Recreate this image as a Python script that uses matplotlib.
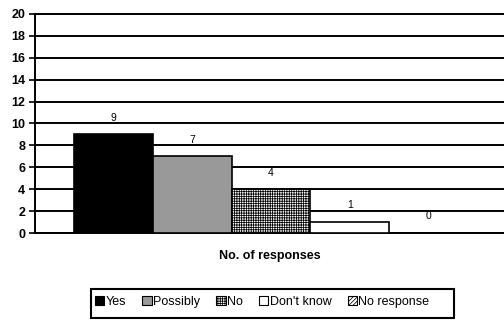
import matplotlib
matplotlib.use("Agg")
import matplotlib.pyplot as plt
from matplotlib.patches import Patch, Rectangle

# data
categories = ["Yes", "Possibly", "No", "Don't know", "No response"]
responses = [9, 7, 4, 1, 0]
y_ticks = list(range(0, 21, 2))

bar_colors = ["black", "#999999", "white", "white", "white"]
bar_hatches = [None, None, "+++++++", None, "////////"]

plt.rcParams['font.family'] = ['Liberation Sans', 'DejaVu Sans']
plt.rcParams['hatch.linewidth'] = 0.55

fig = plt.figure(figsize=(5.04, 3.22), dpi=100)
W, H = 504.0, 322.0
ax = fig.add_axes([35 / W, 1 - 233 / H, (504 - 35) / W, (233 - 14) / H])

x = list(range(len(categories)))
bars = ax.bar(x, responses, width=1.0, color=bar_colors, edgecolor="black",
              linewidth=1.2, zorder=3)
for b, h in zip(bars, bar_hatches):
    if h:
        b.set_hatch(h)

# value labels above each bar
for xi, v in zip(x, responses):
    ax.annotate(str(v), (xi, v), xytext=(0, 12), textcoords="offset points",
                ha="center", va="center", fontsize=7.5)

ax.set_xlim(-0.995, 4.957)
ax.set_ylim(0, 20)
ax.set_yticks(y_ticks)
ax.set_yticklabels([str(t) for t in y_ticks], fontweight="bold", fontsize=9)
ax.set_xticks([])
ax.yaxis.grid(True, color="black", linewidth=1.4)
ax.set_axisbelow(True)
ax.tick_params(axis="y", length=4, width=1.2, pad=3)

ax.spines["right"].set_visible(False)
for s in ["left", "bottom", "top"]:
    ax.spines[s].set_linewidth(1.4)

ax.set_xlabel("No. of responses", fontweight="bold", fontsize=9, labelpad=12)

# legend with framed box below the plot
handles = [Patch(facecolor=c, edgecolor="black", hatch=h, linewidth=0.8)
           for c, h in zip(bar_colors, bar_hatches)]
fig.patches.append(Rectangle((91 / W, 1 - 318 / H), (454 - 91) / W, (318 - 289) / H,
                             transform=fig.transFigure, facecolor="none",
                             edgecolor="black", linewidth=1.5))
fig.legend(handles, categories, loc="center left", ncol=5,
           bbox_to_anchor=(95 / W, 1 - 302 / H), frameon=False, fontsize=9,
           handlelength=0.75, handleheight=0.75, handletextpad=0.1,
           columnspacing=1.3, borderaxespad=0, borderpad=0)

fig.savefig("out.png", dpi=100)
